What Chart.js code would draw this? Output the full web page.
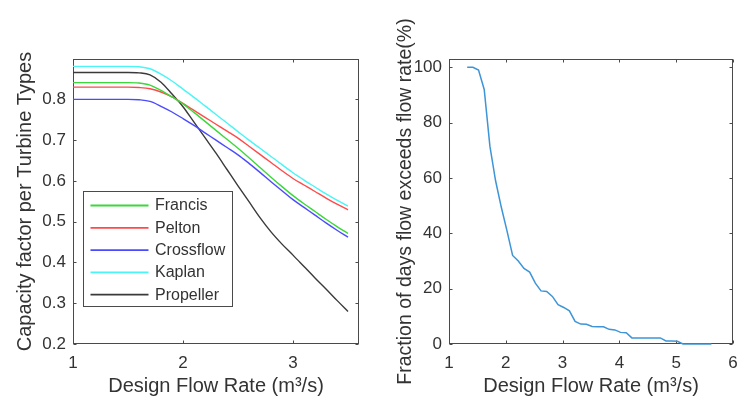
<!DOCTYPE html>
<html>
<head>
<meta charset="utf-8">
<script src="https://cdn.jsdelivr.net/npm/chart.js@4.4.1/dist/chart.umd.min.js"></script>
<style>
  html, body { margin: 0; padding: 0; background: #ffffff; }
  #wrap { position: relative; width: 737px; height: 403px; overflow: hidden; }
  #capacity { position: absolute; left: 0; top: 0; }
  #exceed { position: absolute; left: 368px; top: 0; }
</style>
</head>
<body>
<div id="wrap">
  <canvas id="capacity" width="368" height="403"></canvas>
  <canvas id="exceed" width="369" height="403"></canvas>
</div>
<script>
// ---- Capacity factor per turbine type vs design flow rate ----
const flowRate = [1.0, 1.1, 1.2, 1.3, 1.4, 1.5, 1.6, 1.7, 1.8, 1.9, 2.0, 2.1, 2.2,
                  2.3, 2.4, 2.5, 2.6, 2.7, 2.8, 2.9, 3.0, 3.1, 3.2, 3.3, 3.4, 3.5];
const francis   = [0.841, 0.841, 0.841, 0.841, 0.841, 0.841, 0.840, 0.835, 0.822, 0.806, 0.789, 0.768, 0.746,
                   0.724, 0.702, 0.680, 0.657, 0.633, 0.609, 0.586, 0.564, 0.544, 0.525, 0.506, 0.488, 0.471];
const pelton    = [0.830, 0.830, 0.830, 0.830, 0.830, 0.830, 0.829, 0.826, 0.818, 0.806, 0.790, 0.773, 0.756,
                   0.739, 0.722, 0.705, 0.685, 0.665, 0.645, 0.625, 0.606, 0.590, 0.574, 0.558, 0.543, 0.529];
const crossflow = [0.800, 0.800, 0.800, 0.800, 0.800, 0.800, 0.799, 0.795, 0.783, 0.769, 0.753, 0.736, 0.718,
                   0.700, 0.682, 0.664, 0.643, 0.621, 0.598, 0.576, 0.554, 0.535, 0.516, 0.497, 0.479, 0.462];
const kaplan    = [0.881, 0.881, 0.881, 0.881, 0.881, 0.881, 0.880, 0.875, 0.862, 0.845, 0.825, 0.805, 0.784,
                   0.763, 0.742, 0.721, 0.700, 0.680, 0.660, 0.640, 0.620, 0.602, 0.585, 0.568, 0.553, 0.538];
const propeller = [0.866, 0.866, 0.866, 0.866, 0.866, 0.866, 0.865, 0.860, 0.842, 0.813, 0.782, 0.744, 0.706,
                   0.668, 0.628, 0.588, 0.549, 0.510, 0.475, 0.445, 0.418, 0.390, 0.362, 0.335, 0.307, 0.280];
const turbineNames = ['Francis', 'Pelton', 'Crossflow', 'Kaplan', 'Propeller'];
const capXTicks = [1, 2, 3];
const capYTicks = [0.2, 0.3, 0.4, 0.5, 0.6, 0.7, 0.8];

// ---- Flow duration: share of days the flow exceeds a design flow rate ----
const exceedFlow = [1.32, 1.42, 1.52, 1.62, 1.72, 1.82, 1.92, 2.02, 2.12, 2.22, 2.32, 2.42, 2.52, 2.62, 2.72,
                    2.82, 2.92, 3.02, 3.12, 3.22, 3.32, 3.42, 3.52, 3.62, 3.72, 3.82, 3.92, 4.02, 4.12, 4.22,
                    4.32, 4.42, 4.52, 4.62, 4.72, 4.82, 4.92, 5.02, 5.12, 5.22, 5.32, 5.42, 5.52, 5.62];
const exceedPct  = [100, 100, 99, 92, 71.5, 59, 49.5, 41, 32, 30, 27.3, 26, 22, 19.2, 19,
                    17.2, 14.2, 13.2, 12, 8.2, 7.2, 7.1, 6.3, 6.2, 6.2, 5.3, 5.1, 4.2, 4.1, 2.2,
                    2.2, 2.2, 2.2, 2.2, 2.2, 1.1, 1.1, 1.0, 0, 0, 0, 0, 0, 0];
const exceedXTicks = [1, 2, 3, 4, 5, 6];
const exceedYTicks = [0, 20, 40, 60, 80, 100];

// ---- styling ----
const FONT = "'Liberation Sans', Arial, Helvetica, sans-serif";
const AXIS_COLOR = '#4a4a4a';
const TEXT_COLOR = '#333333';
const turbineColors = ['#3ad83a', '#ff4a4a', '#4a4aff', '#4af5f5', '#3a3a3a'];

Chart.defaults.font.family = FONT;
Chart.defaults.color = TEXT_COLOR;

// Box around the plot area with inward tick marks on all four sides
const boxedAxes = {
  id: 'boxedAxes',
  beforeDatasetsDraw(chart) {
    const { ctx, chartArea: a, scales } = chart;
    const L = Math.round(a.left) + 0.5, R = Math.round(a.right) - 0.5;
    const T = Math.round(a.top) + 0.5, B = Math.round(a.bottom) - 0.5;
    const len = 3;
    ctx.save();
    ctx.strokeStyle = AXIS_COLOR;
    ctx.lineWidth = 1;
    ctx.strokeRect(L, T, R - L, B - T);
    ctx.beginPath();
    scales.x.ticks.forEach(t => {
      const px = Math.round(scales.x.getPixelForValue(t.value)) + 0.5;
      ctx.moveTo(px, B); ctx.lineTo(px, B - len);
      ctx.moveTo(px, T); ctx.lineTo(px, T + len);
    });
    scales.y.ticks.forEach(t => {
      const py = Math.round(scales.y.getPixelForValue(t.value)) + 0.5;
      ctx.moveTo(L, py); ctx.lineTo(L + len, py);
      ctx.moveTo(R, py); ctx.lineTo(R - len, py);
    });
    ctx.stroke();
    ctx.restore();
  }
};

// Boxed legend drawn inside the plot area, lower left
const insetLegend = {
  id: 'insetLegend',
  afterDraw(chart, args, opts) {
    if (!opts || !opts.show) return;
    const { ctx, chartArea: a } = chart;
    const x0 = Math.round(a.left + opts.dx) + 0.5;
    const y0 = Math.round(a.top + opts.dy) + 0.5;
    ctx.save();
    ctx.fillStyle = '#ffffff';
    ctx.fillRect(x0, y0, opts.w, opts.h);
    ctx.strokeStyle = AXIS_COLOR;
    ctx.lineWidth = 1;
    ctx.strokeRect(x0, y0, opts.w, opts.h);
    ctx.font = opts.fontSize + 'px ' + FONT;
    ctx.textBaseline = 'middle';
    ctx.textAlign = 'left';
    chart.data.datasets.forEach((ds, i) => {
      const y = y0 + opts.firstRow + i * opts.rowGap;
      ctx.strokeStyle = ds.borderColor;
      ctx.lineWidth = 1.8;
      ctx.beginPath();
      ctx.moveTo(x0 + opts.lineStart, y);
      ctx.lineTo(x0 + opts.lineEnd, y);
      ctx.stroke();
      ctx.fillStyle = TEXT_COLOR;
      ctx.fillText(ds.label, x0 + opts.textX, y + 0.5);
    });
    ctx.restore();
  }
};

function fixedTicks(list) {
  return s => { s.ticks = list.map(v => ({ value: v })); };
}

function axisX(min, max, tickList, titleText) {
  return {
    type: 'linear', min, max,
    afterBuildTicks: fixedTicks(tickList),
    afterFit: s => { s.height = 59; s.paddingLeft = 0; s.paddingRight = 0; },
    grid: { display: false, drawTicks: false },
    border: { display: false },
    ticks: { padding: 9, font: { size: 17 }, color: TEXT_COLOR, maxRotation: 0, callback: v => String(v) },
    title: { display: true, text: titleText, font: { size: 20 }, color: TEXT_COLOR, padding: { top: 0, bottom: 5 } }
  };
}

function axisY(min, max, tickList, decimals, width, titlePad, titleSize, titleText) {
  return {
    type: 'linear', min, max,
    afterBuildTicks: fixedTicks(tickList),
    afterFit: s => { s.width = width; s.paddingTop = 0; s.paddingBottom = 0; },
    grid: { display: false, drawTicks: false },
    border: { display: false },
    ticks: { padding: 7, font: { size: 17 }, color: TEXT_COLOR, callback: v => Number(v).toFixed(decimals) },
    title: { display: true, text: titleText, font: { size: titleSize }, color: TEXT_COLOR, padding: { top: titlePad, bottom: 0 } }
  };
}

const turbineSeries = [francis, pelton, crossflow, kaplan, propeller];

new Chart(document.getElementById('capacity'), {
  type: 'line',
  data: {
    datasets: turbineSeries.map((vals, i) => ({
      label: turbineNames[i],
      data: flowRate.map((q, j) => ({ x: q, y: vals[j] })),
      borderColor: turbineColors[i],
      borderWidth: 1.4,
      pointRadius: 0,
      tension: 0.3,
      cubicInterpolationMode: 'monotone',
      fill: false
    }))
  },
  options: {
    responsive: false,
    animation: false,
    devicePixelRatio: 1,
    layout: { padding: { left: 0, top: 59, right: 9, bottom: 0 } },
    plugins: {
      legend: { display: false },
      tooltip: { enabled: false },
      insetLegend: { show: true, dx: 9.7, dy: 132.4, w: 149, h: 115, firstRow: 14, rowGap: 22.3,
                     lineStart: 7, lineEnd: 65, textX: 71.5, fontSize: 16 }
    },
    scales: {
      x: axisX(1, 3.6, capXTicks, 'Design Flow Rate (m³/s)'),
      y: axisY(0.2, 0.899, capYTicks, 1, 73, 13.5, 20, 'Capacity factor per Turbine Types')
    }
  },
  plugins: [boxedAxes, insetLegend]
});

new Chart(document.getElementById('exceed'), {
  type: 'line',
  data: {
    datasets: [{
      label: 'Exceedance',
      data: exceedFlow.map((q, j) => ({ x: q, y: exceedPct[j] })),
      borderColor: '#3d95d8',
      borderWidth: 1.5,
      pointRadius: 0,
      tension: 0,
      fill: false,
      clip: 4
    }]
  },
  options: {
    responsive: false,
    animation: false,
    devicePixelRatio: 1,
    layout: { padding: { left: 0, top: 59, right: 4, bottom: 0 } },
    plugins: { legend: { display: false }, tooltip: { enabled: false } },
    scales: {
      x: axisX(1, 6, exceedXTicks, 'Design Flow Rate (m³/s)'),
      y: axisY(0, 103, exceedYTicks, 0, 81, 26, 19.5, 'Fraction of days flow exceeds flow rate(%)')
    }
  },
  plugins: [boxedAxes]
});
</script>
</body>
</html>
